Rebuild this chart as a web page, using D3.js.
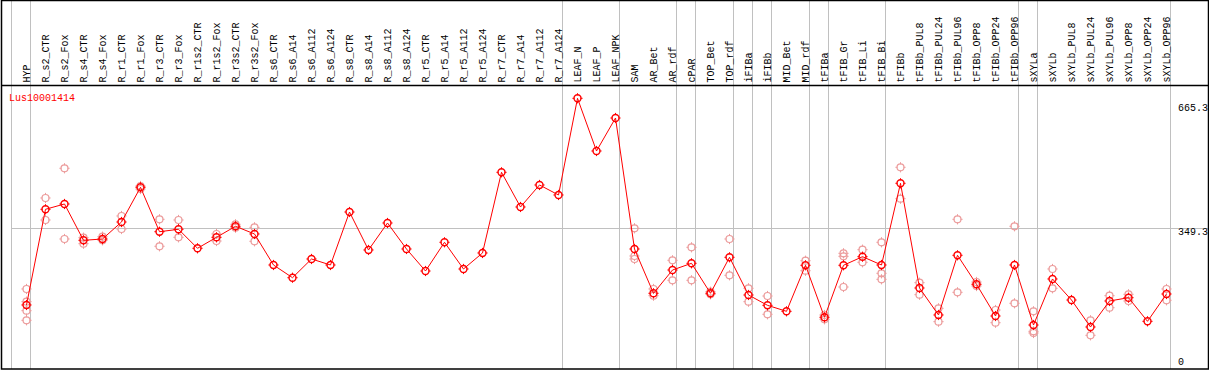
<!DOCTYPE html>
<html>
<head>
<meta charset="utf-8">
<script src="https://cdn.jsdelivr.net/npm/d3@7"></script>
<style>
  body { margin: 0; background: #fff; }
  text { font-family: "Liberation Mono", "DejaVu Sans Mono", monospace; font-size: 10px; }
</style>
</head>
<body>
<div id="chart"></div>
<script>
var width = 1209, height = 370;

var gene = "Lus10001414";

var categories = ["HYP", "R_s2_CTR", "R_s2_Fox", "R_s4_CTR", "R_s4_Fox", "R_r1_CTR", "R_r1_Fox",
  "R_r3_CTR", "R_r3_Fox", "R_r1s2_CTR", "R_r1s2_Fox", "R_r3s2_CTR", "R_r3s2_Fox", "R_s6_CTR",
  "R_s6_A14", "R_s6_A112", "R_s6_A124", "R_s8_CTR", "R_s8_A14", "R_s8_A112", "R_s8_A124",
  "R_r5_CTR", "R_r5_A14", "R_r5_A112", "R_r5_A124", "R_r7_CTR", "R_r7_A14", "R_r7_A112",
  "R_r7_A124", "LEAF_N", "LEAF_P", "LEAF_NPK", "SAM", "AR_Bet", "AR_rdf", "cPAR", "TOP_Bet",
  "TOP_rdf", "iFIBa", "iFIBb", "MID_Bet", "MID_rdf", "tFIBa", "tFIB_Gr", "tFIB_Li", "tFIB_Bi",
  "tFIBb", "tFIBb_PUL8", "tFIBb_PUL24", "tFIBb_PUL96", "tFIBb_OPP8", "tFIBb_OPP24",
  "tFIBb_OPP96", "sXYLa", "sXYLb", "sXYLb_PUL8", "sXYLb_PUL24", "sXYLb_PUL96", "sXYLb_OPP8",
  "sXYLb_OPP24", "sXYLb_OPP96"];

// mean expression per sample
var means = [162.9, 395.5, 408.4, 320.1, 323.3, 364.6, 449.0, 341.0, 346.9, 300.7, 327.4,
  354.2, 335.5, 260.1, 229.2, 274.7, 260.1, 388.9, 296.6, 362.2, 299.0, 245.5, 315.3, 250.4,
  289.3, 485.4, 401.1, 454.6, 430.3, 665.3, 537.2, 617.4, 299.0, 191.3, 247.9, 264.2, 191.3,
  278.8, 187.2, 162.1, 147.5, 259.4, 133.0, 259.4, 280.3, 260.1, 458.7, 204.2, 138.6, 283.7,
  213.2, 136.1, 260.1, 114.2, 226.1, 175.0, 109.4, 172.6, 180.6, 123.2, 189.6];

// individual replicates (only where they show apart from the mean)
var replicates = [
  [201.8, 170.9, 149.0, 125.7], [423.0, 369.5], [495.2, 323.3], [326.5, 311.9], [328.9, 320.1],
  [379.2, 347.6], [452.1, 444.8], [371.2, 305.6], [369.5, 327.4], [], [335.5, 318.4],
  [359.0, 350.8], [351.7, 317.7], [], [], [], [], [], [], [], [], [], [], [], [], [], [], [], [],
  [], [], [], [349.3, 282.0, 274.7], [201.8, 185.5], [271.5, 222.9], [303.1, 222.9],
  [195.2, 188.9], [323.3, 235.1], [203.5, 170.9], [184.7, 140.3], [], [270.5, 246.2],
  [138.6, 128.1], [288.5, 281.2, 206.6], [297.3, 266.7], [315.3, 239.9, 225.3], [497.6, 421.3],
  [217.1, 187.9], [154.8, 122.3], [371.2, 193.7], [218.8, 209.0], [150.7, 119.8],
  [354.2, 167.0], [147.5, 98.9, 94.8], [250.4, 203.5], [], [125.7, 89.2], [185.5, 156.3],
  [188.9, 172.6], [], [201.8, 174.3]];

// samples that start a new group (a grey separator is drawn before them)
var groupStarts = ["HYP", "R_s2_CTR", "LEAF_N", "SAM", "cPAR", "TOP_Bet", "iFIBa", "iFIBb",
  "MID_Bet", "tFIBa", "tFIB_Gr", "tFIBb", "sXYLa", "sXYLb"];

var yTicks = [0, 349.3, 665.3];
var gridTicks = [349.3];

var svg = d3.select("#chart").append("svg")
  .attr("width", width)
  .attr("height", height);

var x = d3.scalePoint()
  .domain(categories)
  .range([26.5, 1166.5]);

var y = d3.scaleLinear()
  .domain([0, d3.max(means)])
  .range([372, 98.3]);

var step = x.step();
var sepX = function(c) { return Math.round(x(c) - 15.5) + 0.5; };

svg.append("defs").append("clipPath")
  .attr("id", "plotclip")
  .append("rect")
  .attr("x", 1).attr("y", 85).attr("width", 1207).attr("height", 284);

// grey separators
var seps = groupStarts.map(sepX);
seps.push(Math.round(x(categories[categories.length - 1]) + step - 15.5) + 0.5);
svg.append("g")
  .selectAll("line")
  .data(seps)
  .enter()
  .append("line")
  .attr("x1", d => d).attr("x2", d => d)
  .attr("y1", 0).attr("y2", 369)
  .attr("stroke", "#c0c0c0")
  .attr("shape-rendering", "crispEdges");

var plot = svg.append("g").attr("clip-path", "url(#plotclip)");

plot.selectAll(".grid")
  .data(gridTicks)
  .enter()
  .append("line")
  .attr("x1", sepX("HYP")).attr("x2", 1208)
  .attr("y1", d => Math.round(y(d)) + 0.5).attr("y2", d => Math.round(y(d)) + 0.5)
  .attr("stroke", "#c0c0c0")
  .attr("shape-rendering", "crispEdges");

// axis values on the right
plot.selectAll(".ylab")
  .data(yTicks)
  .enter()
  .append("text")
  .attr("x", 1178)
  .attr("y", d => Math.max(111, Math.min(365, y(d) + 7)))
  .attr("fill", "#000")
  .text(d => d3.format("")(d));

// header labels
svg.append("g")
  .selectAll("text")
  .data(categories)
  .enter()
  .append("text")
  .attr("transform", d => "translate(" + (x(d) + 3) + ",82.5) rotate(-90)")
  .attr("fill", "#000")
  .text(d => d);

function marker(g, r, color, sw) {
  g.append("circle")
    .attr("r", r)
    .attr("fill", "none")
    .attr("stroke", color)
    .attr("stroke-width", sw);
  [[0, -1], [0, 1], [-1, 0], [1, 0]].forEach(function(v) {
    g.append("line")
      .attr("x1", v[0] * (r - 0.5)).attr("y1", v[1] * (r - 0.5))
      .attr("x2", v[0] * (r + 1.6)).attr("y2", v[1] * (r + 1.6))
      .attr("stroke", color)
      .attr("stroke-width", 1);
  });
}

// replicate points
var reps = [];
replicates.forEach(function(vals, i) {
  vals.forEach(function(v) { reps.push({cat: categories[i], value: v}); });
});

plot.append("g")
  .selectAll("g")
  .data(reps)
  .enter()
  .append("g")
  .attr("transform", d => "translate(" + x(d.cat) + "," + y(d.value) + ")")
  .each(function() { marker(d3.select(this), 3.5, "#ec9c9c", 1.2); });

// mean line
var line = d3.line()
  .x((d, i) => x(categories[i]))
  .y(d => y(d));

plot.append("path")
  .datum(means)
  .attr("d", line)
  .attr("fill", "none")
  .attr("stroke", "#ff0000")
  .attr("stroke-width", 1);

plot.append("g")
  .selectAll("g")
  .data(means)
  .enter()
  .append("g")
  .attr("transform", (d, i) => "translate(" + x(categories[i]) + "," + y(d) + ")")
  .each(function() {
    var g = d3.select(this);
    marker(g, 3.5, "#ff0000", 1.4);
  });

svg.append("text")
  .attr("x", 9)
  .attr("y", 101)
  .attr("fill", "#ff0000")
  .text(gene);

// frame
svg.append("rect")
  .attr("x", 1.5).attr("y", 0.5)
  .attr("width", 1207).attr("height", 368.5)
  .attr("fill", "none")
  .attr("stroke", "#000")
  .attr("stroke-width", 1.5);

svg.append("line")
  .attr("x1", 1).attr("x2", 1208)
  .attr("y1", 85.5).attr("y2", 85.5)
  .attr("stroke", "#000")
  .attr("stroke-width", 1.5);
</script>
</body>
</html>
